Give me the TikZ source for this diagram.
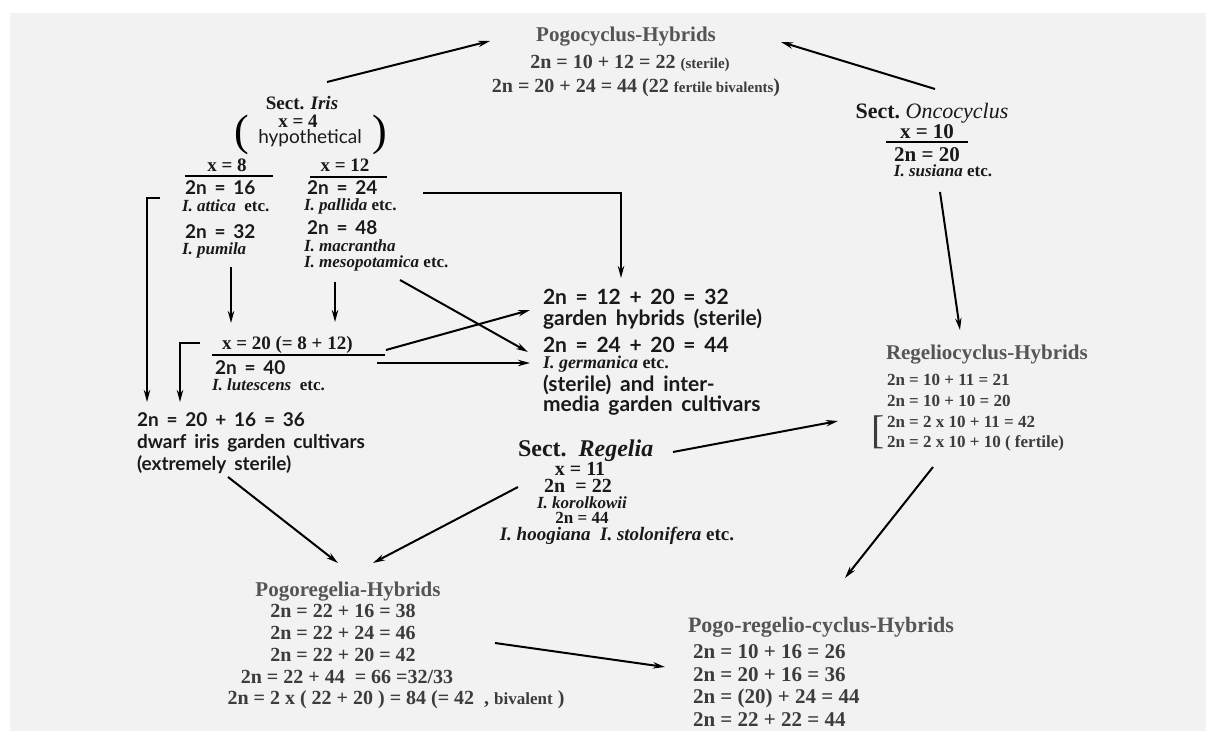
\documentclass[tikz,border=0pt]{standalone}
\usepackage{fontspec}
\setmainfont{Liberation Serif}
\newfontfamily\optfont{Lato}[WordSpace=1.7]
\usepackage{xcolor}
\usetikzlibrary{arrows.meta}

\definecolor{bgray}{HTML}{F2F2F2}
\definecolor{hybgray}{HTML}{555555}
\definecolor{eqgray}{HTML}{3C3C3C}

\begin{document}
\begin{tikzpicture}[x=0.5pt, y=-0.5pt, >={Stealth[length=6pt,width=3.2pt]},
  every node/.style={inner sep=0pt, outer sep=0pt},
  blk/.style={font=\bfseries\fontsize{9.5}{11}\selectfont, text=black!90},
  sns/.style={font=\optfont\bfseries\fontsize{9.5}{11}\selectfont, text=black!90},
  bigsns/.style={font=\optfont\bfseries\fontsize{10.5}{12}\selectfont, text=black!90},
  spc/.style={font=\bfseries\itshape\fontsize{8.5}{10}\selectfont, text=black!90},
  hybhead/.style={font=\bfseries\fontsize{10.5}{12}\selectfont, text=hybgray},
  hybeq/.style={font=\bfseries\fontsize{10}{12}\selectfont, text=eqgray},
  smalleq/.style={font=\bfseries\fontsize{8.5}{10}\selectfont, text=eqgray},
  arr/.style={->, line width=1pt},
  bar/.style={line width=0.9pt}]

\useasboundingbox (0,0) rectangle (1206,731);
\fill[bgray] (10,13) rectangle (1206,731);

% Pogocyclus hybrids
\node[hybhead] (pch) at (626,37) {Pogocyclus-Hybrids};
\node[hybeq] (pch1) at (630,63) {2n = 10 + 12 = 22 {\fontsize{7.5}{9}\selectfont(sterile)}};
\node[hybeq] (pch2) at (636,88) {2n = 20 + 24 = 44 (22 {\fontsize{7.5}{9}\selectfont fertile bivalents})};

% Sect. Iris
\node[blk] (iris) at (302,103) {Sect. \textit{Iris}};
\node[blk] (x4) at (298,121) {x = 4};
\node[sns, font=\optfont\fontsize{9.5}{11}\selectfont] (hyp) at (310,138) {hypothetical};
\node[font=\fontsize{22}{22}\selectfont] (lpar) at (242,135) {(};
\node[font=\fontsize{22}{22}\selectfont] (rpar) at (380,135) {)};

\node[blk] (x8) at (227,165) {x = 8};
\draw[bar] (185,176) -- (273,176);
\node[sns, anchor=west] (n16) at (185,188) {2n = 16};
\node[spc, anchor=west] (attica) at (182,206) {I. attica \ \upshape etc.};
\node[sns, anchor=west] (n32) at (185,232) {2n = 32};
\node[spc, anchor=west] (pumila) at (182,250) {I. pumila};

\node[blk] (x12) at (345,165) {x = 12};
\draw[bar] (310,177) -- (387,177);
\node[sns, anchor=west] (n24) at (307,188) {2n = 24};
\node[spc, anchor=west] (pallida) at (304,206) {I. pallida \upshape etc.};
\node[sns, anchor=west] (n48) at (307,228) {2n = 48};
\node[spc, anchor=west] (macr) at (304,246) {I. macrantha};
\node[spc, anchor=west] (meso) at (304,263) {I. mesopotamica \upshape etc.};

% x = 20
\node[blk, anchor=west] (x20) at (222,345) {x = 20 (= 8 + 12)};
\draw[bar] (212,355) -- (385,355);
\node[sns, anchor=west] (n40) at (215,368) {2n = 40};
\node[spc, anchor=west] (lut) at (212,385) {I. lutescens \ \upshape etc.};

% dwarf cultivars
\node[sns, anchor=west] (dw1) at (137,420) {2n = 20 + 16 = 36};
\node[sns, anchor=west] (dw2) at (137,443) {dwarf iris garden cultivars};
\node[sns, anchor=west] (dw3) at (137,465) {(extremely sterile)};

% garden hybrids
\node[bigsns, anchor=west] (gh1) at (543,297) {2n = 12 + 20 = 32};
\node[bigsns, anchor=west] (gh2) at (543,319) {garden hybrids (sterile)};
\node[bigsns, anchor=west] (gh3) at (543,345) {2n = 24 + 20 = 44};
\node[spc, font=\bfseries\itshape\fontsize{9}{10}\selectfont, anchor=west] (gh4) at (543,364) {I. germanica \upshape etc.};
\node[bigsns, anchor=west] (gh5) at (543,385) {(sterile) and inter-};
\node[bigsns, anchor=west] (gh6) at (543,406) {media garden cultivars};

% Sect. Regelia
\node[blk, font=\bfseries\fontsize{12}{14}\selectfont, anchor=west] (reg) at (518,451) {Sect.\ \ \textit{Regelia}};
\node[blk, font=\bfseries\fontsize{10}{12}\selectfont] (x11) at (580,469) {x = 11};
\node[blk, font=\bfseries\fontsize{10}{12}\selectfont] (n22) at (578,486) {2n \ = 22};
\node[spc, font=\bfseries\itshape\fontsize{8.5}{9}\selectfont] (korol) at (582,503) {I. korolkowii};
\node[blk, font=\bfseries\fontsize{8.5}{9}\selectfont] (n44) at (582,518) {2n = 44};
\node[spc, font=\bfseries\itshape\fontsize{9.5}{11}\selectfont] (hoog) at (617,536) {I. hoogiana \ I. stolonifera \upshape etc.};

% Sect. Oncocyclus
\node[blk, font=\bfseries\fontsize{11}{13}\selectfont] (onc) at (932,113) {Sect.\ \textit{\mdseries Oncocyclus}};
\node[blk, font=\bfseries\fontsize{10.5}{12}\selectfont] (x10) at (927,132) {x = 10};
\draw[bar] (886,142) -- (968,142);
\node[blk, font=\bfseries\fontsize{10.5}{12}\selectfont] (n20) at (927,155) {2n = 20};
\node[spc] (sus) at (943,171) {I. susiana \upshape etc.};

% Regeliocyclus hybrids
\node[hybhead, anchor=west] (rch) at (886,355) {Regeliocyclus-Hybrids};
\node[smalleq, anchor=west] (rc1) at (887,380) {2n = 10 + 11 = 21};
\node[smalleq, anchor=west] (rc2) at (887,401) {2n = 10 + 10 = 20};
\node[smalleq, anchor=west] (rc3) at (887,422) {2n = 2 x 10 + 11 = 42};
\node[smalleq, anchor=west] (rc4) at (887,443) {2n = 2 x 10 + 10 ( fertile)};
\node[font=\fontsize{20}{20}\selectfont, text=eqgray] (rcbr) at (878,432) {[};

% Pogoregelia hybrids
\node[hybhead] (prh) at (348,592) {Pogoregelia-Hybrids};
\node[hybeq] (pr1) at (343,611) {2n = 22 + 16 = 38};
\node[hybeq] (pr2) at (343,633) {2n = 22 + 24 = 46};
\node[hybeq] (pr3) at (343,655) {2n = 22 + 20 = 42};
\node[hybeq] (pr4) at (347,677) {2n = 22 + 44 \ = 66 =32/33};
\node[hybeq] (pr5) at (396,700) {2n = 2 x ( 22 + 20 ) = 84 (= 42 \ , {\fontsize{8.5}{10}\selectfont bivalent} )};

% Pogo-regelio-cyclus hybrids
\node[hybhead, font=\bfseries\fontsize{11}{13}\selectfont, anchor=west] (prch) at (688,627) {Pogo-regelio-cyclus-Hybrids};
\node[hybeq, font=\bfseries\fontsize{10.5}{12}\selectfont, anchor=west] (prc1) at (693,652) {2n = 10 + 16 = 26};
\node[hybeq, font=\bfseries\fontsize{10.5}{12}\selectfont, anchor=west] (prc2) at (693,675) {2n = 20 + 16 = 36};
\node[hybeq, font=\bfseries\fontsize{10.5}{12}\selectfont, anchor=west] (prc3) at (693,698) {2n = (20) + 24 = 44};
\node[hybeq, font=\bfseries\fontsize{10.5}{12}\selectfont, anchor=west] (prc4) at (693,720) {2n = 22 + 22 = 44};

% arrow ends
\coordinate (iris-out) at (327,82);
\coordinate (pch-l) at (490,41);
\coordinate (onc-out) at (935,89);
\coordinate (pch-r) at (781,42);
\coordinate (onc-dn) at (940,192);
\coordinate (rch-in) at (960,330);
\coordinate (att-out) at (160,198);
\coordinate (dw-in) at (147,402);
\coordinate (n24-out) at (423,193);
\coordinate (gh-top) at (621,278);
\coordinate (pum-out) at (231,267);
\coordinate (x20-in1) at (231,323);
\coordinate (n48-out) at (335,282);
\coordinate (x20-in2) at (335,322);
\coordinate (meso-out) at (400,280);
\coordinate (gh-in1) at (528,352);
\coordinate (x20-out) at (200,343);
\coordinate (dw-in2) at (180,402);
\coordinate (x20-r1) at (386,350);
\coordinate (gh-in2) at (530,310);
\coordinate (x20-r2) at (377,363);
\coordinate (gh-in3) at (530,363);
\coordinate (dw-out) at (228,477);
\coordinate (prh-in1) at (338,563);
\coordinate (reg-out1) at (518,487);
\coordinate (prh-in2) at (373,563);
\coordinate (reg-out2) at (673,452);
\coordinate (rch-in2) at (838,421);
\coordinate (rch-out) at (933,467);
\coordinate (prch-in1) at (845,578);
\coordinate (prh-out) at (495,643);
\coordinate (prch-in2) at (665,667);

% arrows
\draw[arr] (iris-out) -- (pch-l);
\draw[arr] (onc-out) -- (pch-r);
\draw[arr] (onc-dn) -- (rch-in);
\draw[arr] (att-out) -| (dw-in);
\draw[arr] (n24-out) -| (gh-top);
\draw[arr] (pum-out) -- (x20-in1);
\draw[arr] (n48-out) -- (x20-in2);
\draw[arr] (meso-out) -- (gh-in1);
\draw[arr] (x20-out) -| (dw-in2);
\draw[arr] (x20-r1) -- (gh-in2);
\draw[arr] (x20-r2) -- (gh-in3);
\draw[arr] (dw-out) -- (prh-in1);
\draw[arr] (reg-out1) -- (prh-in2);
\draw[arr] (reg-out2) -- (rch-in2);
\draw[arr] (rch-out) -- (prch-in1);
\draw[arr] (prh-out) -- (prch-in2);
\end{tikzpicture}
\end{document}
